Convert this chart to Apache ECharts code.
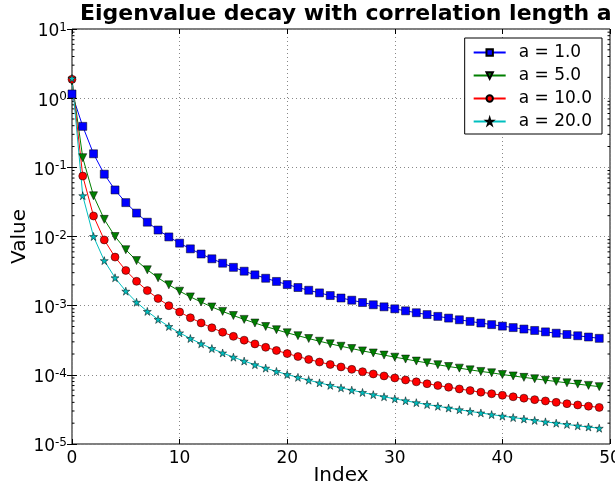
<!DOCTYPE html>
<html lang="en">
<head>
    <meta http-equiv="Content-Type" content="text/html; charset=utf-8"/>
    <title>Eigenvalue decay</title>
    <script type="text/javascript" src="https://cdn.jsdelivr.net/npm/echarts@6/dist/echarts.min.js"></script>
</head>
<style>
    * {
        margin: 0;
        padding: 0;
    }
    html, body {
        width: 100%;
        height: 100%;
        background: #fff;
    }
    .main {
        width: 615px;
        height: 489px;
    }
</style>
<body>
<div id="main" class="main"></div>
</body>
<script type="text/javascript">

    // eigenvalues, index 0..49
    var names = ['a = 1.0', 'a = 5.0', 'a = 10.0', 'a = 20.0'];
    var a1 = [1.15, 0.391, 0.157, 0.0796, 0.0471, 0.0309, 0.0218, 0.0161, 0.0124, 9.86e-3,
        8.01e-3, 6.63e-3, 5.58e-3, 4.76e-3, 4.11e-3, 3.58e-3, 3.15e-3, 2.79e-3, 2.49e-3, 2.24e-3,
        2.02e-3, 1.83e-3, 1.67e-3, 1.53e-3, 1.40e-3, 1.29e-3, 1.20e-3, 1.11e-3, 1.03e-3, 9.62e-4,
        9.0e-4, 8.42e-4, 7.90e-4, 7.43e-4, 7.00e-4, 6.61e-4, 6.25e-4, 5.92e-4, 5.61e-4, 5.32e-4,
        5.06e-4, 4.82e-4, 4.59e-4, 4.38e-4, 4.18e-4, 4.00e-4, 3.83e-4, 3.67e-4, 3.52e-4, 3.37e-4];
    var a5 = [1.77, 0.138, 0.0388, 0.0177, 0.0100, 6.44e-3, 4.48e-3, 3.30e-3, 2.53e-3, 2.00e-3,
        1.62e-3, 1.34e-3, 1.13e-3, 9.58e-4, 8.26e-4, 7.20e-4, 6.33e-4, 5.61e-4, 5.00e-4, 4.49e-4,
        4.05e-4, 3.68e-4, 3.35e-4, 3.06e-4, 2.81e-4, 2.59e-4, 2.40e-4, 2.22e-4, 2.07e-4, 1.93e-4,
        1.80e-4, 1.69e-4, 1.58e-4, 1.49e-4, 1.40e-4, 1.32e-4, 1.25e-4, 1.18e-4, 1.12e-4, 1.07e-4,
        1.01e-4, 9.64e-5, 9.19e-5, 8.77e-5, 8.37e-5, 8.01e-5, 7.66e-5, 7.34e-5, 7.04e-5, 6.75e-5];
    var a10 = [1.87, 0.0748, 0.0198, 8.92e-3, 5.04e-3, 3.23e-3, 2.25e-3, 1.65e-3, 1.27e-3, 1.00e-3,
        8.10e-4, 6.69e-4, 5.63e-4, 4.79e-4, 4.13e-4, 3.60e-4, 3.17e-4, 2.80e-4, 2.50e-4, 2.25e-4,
        2.03e-4, 1.84e-4, 1.67e-4, 1.53e-4, 1.41e-4, 1.30e-4, 1.20e-4, 1.11e-4, 1.03e-4, 9.64e-5,
        9.01e-5, 8.43e-5, 7.92e-5, 7.44e-5, 7.01e-5, 6.62e-5, 6.25e-5, 5.92e-5, 5.61e-5, 5.33e-5,
        5.07e-5, 4.82e-5, 4.60e-5, 4.38e-5, 4.19e-5, 4.00e-5, 3.83e-5, 3.67e-5, 3.52e-5, 3.38e-5];
    var a20 = [1.93, 0.0389, 0.0100, 4.48e-3, 2.53e-3, 1.62e-3, 1.12e-3, 8.26e-4, 6.33e-4, 5.00e-4,
        4.05e-4, 3.35e-4, 2.81e-4, 2.40e-4, 2.07e-4, 1.80e-4, 1.58e-4, 1.40e-4, 1.25e-4, 1.12e-4,
        1.01e-4, 9.19e-5, 8.37e-5, 7.66e-5, 7.04e-5, 6.48e-5, 6.00e-5, 5.56e-5, 5.17e-5, 4.82e-5,
        4.50e-5, 4.22e-5, 3.96e-5, 3.72e-5, 3.51e-5, 3.31e-5, 3.13e-5, 2.96e-5, 2.81e-5, 2.66e-5,
        2.53e-5, 2.41e-5, 2.30e-5, 2.19e-5, 2.09e-5, 2.00e-5, 1.92e-5, 1.83e-5, 1.76e-5, 1.69e-5];
    var yDecades = [1e-5, 1e-4, 1e-3, 1e-2, 1e-1, 1e0, 1e1];

    var colors = ['#0000ff', '#007f00', '#ff0000', '#00bfbf'];
    var symbols = ['rect', 'triangle', 'circle',
        'path://M50,0 L61,35 L98,35 L68,57 L79,91 L50,70 L21,91 L32,57 L2,35 L39,35 Z'];
    var sizes = [8, 8, 8, 8];

    function pairs(arr) {
        var out = [];
        for (var i = 0; i < arr.length; i++) {
            out.push([i, arr[i]]);
        }
        return out;
    }

    var font = 'DejaVu Sans';

    var chart = echarts.init(document.getElementById('main'), null, {renderer: 'canvas'});

    var allData = [a1, a5, a10, a20];
    var series = [];
    for (var s = 0; s < allData.length; s++) {
        series.push({
            name: names[s],
            type: 'line',
            data: pairs(allData[s]),
            symbol: symbols[s],
            symbolSize: sizes[s],
            symbolRotate: s === 1 ? 180 : 0,
            showAllSymbol: true,
            clip: false,
            animation: false,
            lineStyle: {color: colors[s], width: 1},
            itemStyle: {color: colors[s], borderColor: '#000', borderWidth: 0.5}
        });
    }

    var option = {
        backgroundColor: '#fff',
        animation: false,
        title: {
            text: 'Eigenvalue decay with correlation length a',
            left: 80,
            top: 3,
            padding: 0,
            textStyle: {fontFamily: font, fontWeight: 'bold', fontSize: 22, color: '#000'}
        },
        legend: {
            orient: 'vertical',
            right: 13,
            top: 38,
            padding: [6, 10, 4, 8],
            itemGap: 6,
            itemWidth: 32,
            itemHeight: 8,
            borderColor: '#000',
            borderWidth: 1,
            backgroundColor: '#fff',
            textStyle: {fontFamily: font, fontSize: 17, color: '#000', padding: [0, 0, 0, 8]},
            data: names
        },
        grid: {
            left: 72, right: 5, top: 29, bottom: 45,
            outerBoundsMode: 'none',
            containLabel: false,
            show: true, borderColor: '#000', borderWidth: 1
        },
        xAxis: [{
            type: 'value',
            min: 0, max: 50, interval: 10,
            name: 'Index',
            nameLocation: 'middle',
            nameGap: 22,
            nameMoveOverlap: false,
            nameTextStyle: {fontFamily: font, fontSize: 20, color: '#000'},
            axisLine: {show: false},
            axisTick: {inside: true, length: 5, lineStyle: {color: '#000'}},
            axisLabel: {fontFamily: font, fontSize: 17, color: '#000', margin: 6},
            splitLine: {show: true, lineStyle: {color: '#888', type: [1, 3], width: 1}}
        }, {
            type: 'value',
            position: 'top',
            min: 0, max: 50, interval: 10,
            axisLine: {show: false},
            axisTick: {inside: true, length: 5, lineStyle: {color: '#000'}},
            axisLabel: {show: false},
            splitLine: {show: false}
        }],
        yAxis: [{
            type: 'log',
            logBase: 10,
            min: 1e-5, max: 1e1,
            name: 'Value',
            nameLocation: 'middle',
            nameGap: 42,
            nameMoveOverlap: false,
            nameTextStyle: {fontFamily: font, fontSize: 20, color: '#000'},
            axisLine: {show: false},
            axisTick: {inside: true, length: 5, lineStyle: {color: '#000'}},
            axisLabel: {
                margin: 5,
                padding: [6, 0, 0, 0],
                formatter: function (v) {
                    var e = Math.round(Math.log10(v));
                    return '{b|10}{s|' + e + '}';
                },
                rich: {
                    b: {fontFamily: font, fontSize: 17, color: '#000', lineHeight: 20},
                    s: {fontFamily: font, fontSize: 12, color: '#000', lineHeight: 12, verticalAlign: 'top'}
                }
            },
            splitLine: {show: true, lineStyle: {color: '#888', type: [1, 3], width: 1}}
        }, {
            type: 'log',
            logBase: 10,
            position: 'right',
            min: 1e-5, max: 1e1,
            axisLine: {show: false},
            axisTick: {inside: true, length: 5, lineStyle: {color: '#000'}},
            axisLabel: {show: false},
            splitLine: {show: false}
        }],
        series: series
    };
    chart.setOption(option);

    // minor log ticks on left and right edges, placed through the y axis scale
    var minor = [];
    var xl = chart.convertToPixel({xAxisIndex: 0}, 0);
    var xr = chart.convertToPixel({xAxisIndex: 0}, 50);
    for (var d = 0; d < yDecades.length - 1; d++) {
        for (var m = 2; m <= 9; m++) {
            var py = chart.convertToPixel({yAxisIndex: 0}, m * yDecades[d]);
            minor.push({type: 'line', shape: {x1: xl, y1: py, x2: xl + 2.5, y2: py},
                style: {stroke: '#000', lineWidth: 1}, silent: true});
            minor.push({type: 'line', shape: {x1: xr - 2.5, y1: py, x2: xr, y2: py},
                style: {stroke: '#000', lineWidth: 1}, silent: true});
        }
    }
    chart.setOption({graphic: minor});
</script>

</html>
